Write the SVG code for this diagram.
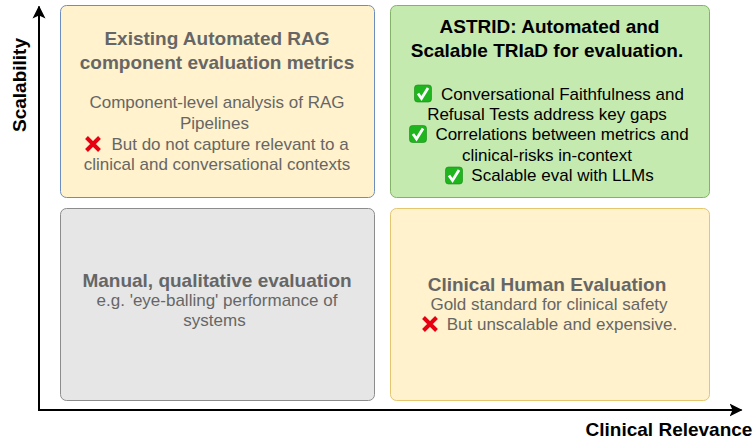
<svg xmlns="http://www.w3.org/2000/svg" width="753" height="440" viewBox="0 0 753 440">
<style>
text{font-family:"Liberation Sans",Arial,sans-serif;text-anchor:middle}
.box{stroke-width:1}
.t{font-size:19px;font-weight:700;fill:#666}
.b{font-size:17px;fill:#666}
.tk{font-size:19px;font-weight:700;fill:#000}
.bk{font-size:17px;fill:#000}
.ax{font-size:19px;font-weight:700;fill:#000}
.conn{fill:none;stroke:#000;stroke-width:2}
.x{stroke:#e60012;stroke-width:4;fill:none}
.ck{fill:#1fb51f;stroke:#148a14;stroke-width:.6}
.cm{fill:none;stroke:#fff;stroke-width:2.8}
</style>
<defs>
<marker id="arrow" markerWidth="13" markerHeight="14" refX="12" refY="7" orient="auto" markerUnits="userSpaceOnUse"><path d="M0 .5L13 7L0 13.500L3 7Z" fill="#000"/></marker>
<g id="cross"><path class="x" d="M-6.500 -6.500L6.500 6.500M6.500 -6.500L-6.500 6.500"/></g>
<g id="check"><rect class="ck" x="-8.500" y="-8.500" width="17" height="17" rx="3"/><path class="cm" d="M-5 0L-1.500 5L5 -5.500"/></g>
</defs>
<g id="connectors">
<path class="conn" d="M39 410V6.500" marker-end="url(#arrow)"/>
<path class="conn" d="M38 410H741.500" marker-end="url(#arrow)"/>
</g>
<g id="node-existing">
<rect class="box" x="60.500" y="5.500" width="314" height="192" rx="6" fill="#fff2cc" stroke="#6c8ebf"/>
<text class="t" x="217" y="45">Existing Automated RAG</text>
<text class="t" x="217" y="69">component evaluation metrics</text>
<text class="b" x="217" y="108">Component-level analysis of RAG</text>
<text class="b" x="214.500" y="129">Pipelines</text>
<use href="#cross" x="93" y="144"/>
<text class="b" x="230" y="150">But do not capture relevant to a</text>
<text class="b" x="217" y="170">clinical and conversational contexts</text>
</g>
<g id="node-astrid">
<rect class="box" x="390.500" y="5.500" width="319" height="192" rx="6" fill="#c5eab0" stroke="#82b366"/>
<text class="tk" x="549.500" y="33">ASTRID: Automated and</text>
<text class="tk" x="547" y="57">Scalable TRIaD for evaluation.</text>
<use href="#check" x="423" y="93.500"/>
<text class="bk" x="562.500" y="100">Conversational Faithfulness and</text>
<text class="bk" x="547" y="120">Refusal Tests address key gaps</text>
<use href="#check" x="418" y="134"/>
<text class="bk" x="562" y="140">Correlations between metrics and</text>
<text class="bk" x="547" y="161">clinical-risks in-context</text>
<use href="#check" x="454" y="175.500"/>
<text class="bk" x="562.500" y="181">Scalable eval with LLMs</text>
</g>
<g id="node-manual">
<rect class="box" x="60.500" y="208.500" width="314" height="192" rx="6" fill="#e6e6e6" stroke="#8c8c8c"/>
<text class="t" x="217" y="286.500">Manual, qualitative evaluation</text>
<text class="b" x="217" y="306">e.g. 'eye-balling' performance of</text>
<text class="b" x="214.500" y="326">systems</text>
</g>
<g id="node-human">
<rect class="box" x="390.500" y="208.500" width="319" height="192" rx="6" fill="#fff2cc" stroke="#e3c66f"/>
<text class="t" x="547" y="290.500">Clinical Human Evaluation</text>
<text class="b" x="549" y="310">Gold standard for clinical safety</text>
<use href="#cross" x="430" y="324"/>
<text class="b" x="562" y="330">But unscalable and expensive.</text>
</g>
<g id="axis-labels">
<text class="ax" x="669" y="436">Clinical Relevance</text>
<text class="ax" transform="translate(25.500 85) rotate(-90)">Scalability</text>
</g>
</svg>
